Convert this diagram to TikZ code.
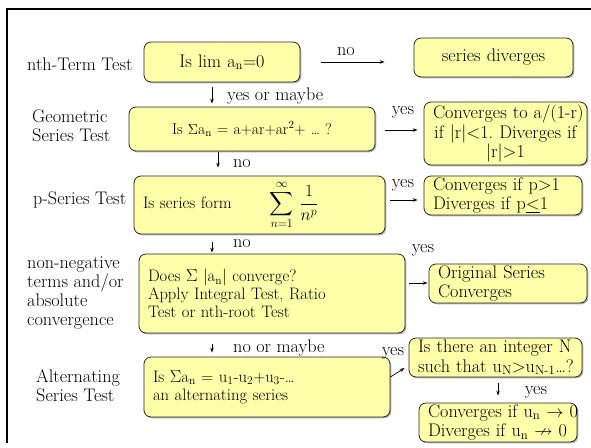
\documentclass[tikz,border=0pt]{standalone}
\usepackage{amssymb}
\usetikzlibrary{shadows,arrows.meta,calc}
\definecolor{boxfill}{RGB}{255,255,170}
\frenchspacing
\begin{document}
\begin{tikzpicture}[x=1pt,y=-1pt,
  every node/.style={font=\fontsize{18.2}{19.3}\selectfont, inner sep=0pt},
  box/.style={draw=black!85, line width=0.8pt, fill=boxfill, rounded corners=7pt,
    inner xsep=9pt, inner ysep=0pt,
    drop shadow={shadow xshift=1.3pt, shadow yshift=-1.3pt, fill=black!50, opacity=0.6}},
  lbox/.style={box, align=left},
  cbox/.style={box, align=center},
  geotext/.style={font=\fontsize{15.6}{17.5}\selectfont},
  boxtext/.style={font=\fontsize{16.6}{17.8}\selectfont},
  arr/.style={-{Stealth[length=5pt,width=3.5pt]}, line width=0.7pt},
  lab/.style={align=left, anchor=west}
]
\useasboundingbox (0,0) rectangle (591,447);

% frame
\draw[line width=2pt] (7,443) -- (7,9) -- (591,9);

% test names
\node[lab] (l1) at (27,64) {nth-Term Test};
\node[lab] (l2) at (32,126) {Geometric\\Series Test};
\node[lab] (l3) at (33,200) {p-Series Test};
\node[lab] (l4) at (27,293) {non-negative\\terms and/or\\absolute\\convergence};
\node[lab] (l5) at (36,386) {Alternating\\Series Test};

% questions
\node[cbox, text width=138pt, minimum height=40pt] (b1) at (222,62) {Is lim a\textsubscript{n}=0};
\node[cbox, geotext, text width=228pt, minimum height=44pt] (b2) at (252,129)
  {Is $\Sigma$a\textsubscript{n} = a+ar+ar\textsuperscript{2}+ … ?};
\node[lbox, boxtext, text width=233pt, minimum height=58pt] (b3) at (259.5,205)
  {\mbox{Is series form\hspace{38pt}$\displaystyle\sum_{n=1}^{\infty}\,\frac{1}{n^{p}}$}};
\node[lbox, boxtext, text width=248pt, minimum height=79pt] (b4) at (272,293.5)
  {Does $\Sigma$ |a\textsubscript{n}| converge?\\Apply Integral Test, Ratio\\Test or nth-root Test};
\node[lbox, boxtext, text width=228pt, minimum height=60pt] (b5) at (267,387)
  {Is $\Sigma$a\textsubscript{n} = u\textsubscript{1}-u\textsubscript{2}+u\textsubscript{3}-…\\an alternating series};

% outcomes
\node[cbox, text width=141pt, minimum height=39pt] (b1r) at (493.5,57.5) {series diverges};
\node[cbox, text width=145pt, minimum height=63pt] (b2r) at (505.5,133.5)
  {\mbox{Converges to a/(1-r)}\\\mbox{if |r|<1. Diverges if}\\|r|>1};
\node[lbox, text width=140pt, minimum height=39pt] (b3r) at (503,195.5)
  {\mbox{Converges if p>1}\\\mbox{Diverges if p\underline{<}1}};
\node[lbox, text width=140pt, minimum height=39pt] (b4r) at (508,283.5)
  {Original Series\\Converges};
\node[lbox, text width=155pt, minimum height=39pt] (b5r) at (495.5,357.5)
  {\mbox{Is there an integer N}\\\mbox{such that u\textsubscript{N}>u\textsubscript{N-1}…?}};
\node[lbox, text width=140pt, minimum height=39pt] (b6) at (498,422.5)
  {\mbox{Converges if u\textsubscript{n} $\rightarrow$ 0}\\\mbox{Diverges if u\textsubscript{n} $\nrightarrow$ 0}};

% connector labels
\node (n1) at (346,52) {no};
\node[lab] (ym) at (227,96) {yes or maybe};
\node (y2) at (403,112) {yes};
\node (n2) at (242,164) {no};
\node (y3) at (403,185) {yes};
\node (n3) at (242,244) {no};
\node (y4) at (423,250) {yes};
\node[lab] (nm) at (233,348) {no or maybe};
\node (y5) at (393,353) {yes};
\node (y6) at (536,392) {yes};

% connectors
\draw[arr] ($(b1.east)+(21,0)$) -- ($(b1r.west)+(-29,4.5)$);
\draw[arr] ($(b1.south)+(-10,5)$) -- ($(b2.north)+(-40,-3)$);
\draw[arr] ($(b2.east)+(10,1)$) -- ($(b2r.west)+(-6,-3.5)$);
\draw[arr] ($(b2.south)+(-34,1)$) -- ($(b3.north)+(-41.5,-8)$);
\draw[arr] ($(b3.east)+(5,-5)$) -- ($(b3r.west)+(-6,4.5)$);
\draw[arr] ($(b3.south)+(-47.5,8)$) -- ($(b4.north)+(-60,-1)$);
\draw[arr] ($(b4.east)+(4,-10.5)$) -- ($(b4r.west)+(-1,-0.5)$);
\draw[arr] ($(b4.south)+(-60,11)$) -- ($(b5.north)+(-55,-4)$);
\draw[arr] ($(b5.east)+(0,-10)$) -- ($(b5r.west)+(-4,10.5)$);
\draw[arr] ($(b5r.south)+(2.5,6)$) -- ($(b6.north)+(0,-7)$);
\end{tikzpicture}
\end{document}
